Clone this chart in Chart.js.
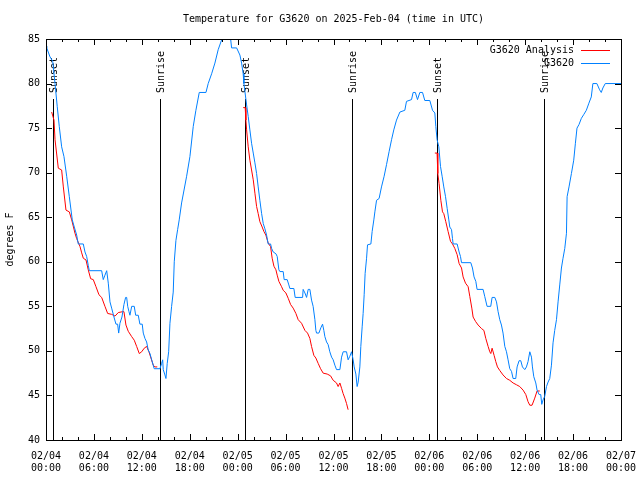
<!DOCTYPE html>
<html><head><meta charset="utf-8">
<script src="https://cdn.jsdelivr.net/npm/chart.js@4"></script>
<style>html,body{margin:0;padding:0;background:#fff}#wrap{width:640px;height:480px}</style>
</head><body><div id="wrap"><canvas id="c" width="640" height="480"></canvas></div>
<script>
const titleText = "Temperature for G3620 on 2025-Feb-04 (time in UTC)";
const yAxisTitle = "degrees F";
const tickDates = ["02/04","02/04","02/04","02/04","02/05","02/05","02/05","02/05","02/06","02/06","02/06","02/06","02/07"];
const tickTimes = ["00:00","06:00","12:00","18:00","00:00","06:00","12:00","18:00","00:00","06:00","12:00","18:00","00:00"];
const sunHours = [0.9, 14.3, 24.9, 38.3, 48.9, 62.3];
const sunLabels = ["Sunset","Sunrise","Sunset","Sunrise","Sunset","Sunrise"];
const sunLineTop = 78.3;
const seriesNames = ["G3620 Analysis", "G3620"];

// Observed G3620 (hours since 02/04 00:00 UTC, degrees F)
const obsHours = [0,0.09,0.5,0.84,1.13,1.41,1.66,1.96,2.25,2.59,2.92,3.29,3.54,3.84,4.04,4.67,4.88,5.09,5.29,5.42,6.97,7.17,7.38,7.6,7.8,8.01,8.22,8.51,8.76,8.97,9.1,9.26,9.51,9.76,9.97,10.1,10.23,10.39,10.51,10.73,11.05,11.23,11.55,11.76,12.05,12.18,12.39,12.6,12.8,13.02,13.23,13.55,14.27,14.48,14.61,14.68,14.89,15.02,15.18,15.36,15.52,15.73,15.93,16.06,16.27,16.48,16.68,16.98,17.61,18.02,18.44,18.77,19.19,20.03,20.31,20.74,21.15,21.56,21.99,22.28,22.78,23.12,23.24,23.87,24.28,24.49,24.69,24.78,24.91,25.12,25.32,25.53,25.74,25.95,26.16,26.37,26.57,26.78,27.0,27.2,27.41,27.62,27.82,28.12,28.25,28.45,28.79,28.95,29.16,29.29,29.7,29.82,30.2,30.41,30.54,31.04,31.2,32.13,32.2,32.42,32.63,32.83,33.04,33.25,33.45,33.67,33.79,33.88,34.17,34.42,34.63,34.79,34.92,35.13,35.33,35.54,35.76,35.96,36.17,36.38,36.8,37.01,37.21,37.63,37.83,38.05,38.26,38.46,38.59,38.8,38.96,39.09,39.3,39.42,39.59,39.71,39.84,39.96,40.14,40.26,40.68,40.84,41.05,41.18,41.39,41.71,42.01,42.34,42.64,42.97,43.27,43.55,43.89,44.31,44.93,45.14,45.77,45.97,46.25,46.52,46.81,47.15,47.43,48.06,48.4,48.69,48.81,48.97,49.19,49.4,49.6,49.81,50.03,50.23,50.44,50.56,50.78,50.9,50.98,51.48,51.73,51.9,52.03,53.19,53.4,53.6,53.82,53.98,54.73,54.94,55.23,55.69,55.86,56.2,56.41,56.61,56.82,57.03,57.23,57.45,57.66,57.86,58.07,58.29,58.49,58.82,58.99,59.24,59.45,59.66,59.95,60.16,60.36,60.58,60.79,60.91,61.08,61.33,61.49,61.74,61.95,62.08,62.24,62.45,62.67,62.87,63.08,63.29,63.49,63.7,63.92,64.12,64.33,64.54,64.74,64.96,65.17,65.25,65.49,65.79,66.08,66.29,66.49,66.74,67.04,67.32,67.66,67.98,68.28,68.48,68.98,69.32,69.53,69.73,70.03,72];
const obsTemps = [84.2,84.0,83.0,82.5,80.0,77.4,75.2,72.9,71.8,69.6,67.3,64.7,63.9,63.0,62.0,62.0,61.1,60.6,59.6,59.0,59.0,58.0,58.5,59.0,57.6,55.5,54.8,53.8,53.0,53.0,52.0,53.1,53.8,55.2,56.0,56.0,55.0,54.4,54.0,55.0,55.0,54.0,54.0,53.0,53.0,52.0,51.4,51.0,50.1,49.7,49.0,48.0,48.0,48.6,49.0,47.9,47.3,46.9,48.6,49.9,53.1,55.0,56.6,60.0,62.4,63.6,64.7,66.6,69.6,71.8,75.2,77.0,79.0,79.0,80.0,81.1,82.3,83.8,84.9,86.0,86.0,85.0,84.0,84.0,83.2,82.3,81.1,80.0,79.1,77.6,76.3,74.8,73.3,72.2,71.1,69.9,68.4,66.9,65.4,64.3,63.7,63.0,62.0,62.0,61.5,61.1,60.9,60.6,59.1,58.9,58.9,58.0,58.0,57.4,57.0,57.0,56.0,56.0,56.9,56.5,56.0,56.9,56.9,55.7,55.0,53.5,52.3,52.0,52.0,52.6,53.0,52.3,51.6,51.0,50.7,49.9,49.3,49.0,48.4,47.9,47.9,49.3,49.9,49.9,49.0,49.4,49.9,49.0,48.2,47.4,46.0,46.5,48.2,50.5,52.7,54.2,56.3,58.7,60.4,61.9,62.0,63.4,64.7,65.6,66.9,67.1,68.4,69.6,70.9,72.4,73.7,74.8,75.9,76.8,77.0,78.0,78.2,79.0,79.0,78.2,79.0,79.0,78.1,78.1,77.0,76.7,75.2,73.7,72.9,70.7,69.6,68.4,67.3,66.0,64.7,63.9,63.6,62.6,62.0,62.0,61.1,60.6,59.9,59.9,59.3,58.3,57.8,56.9,56.9,56.1,55.0,55.0,56.0,56.0,55.5,54.4,53.5,52.9,52.0,50.5,49.9,49.0,48.0,47.7,46.9,46.9,48.2,48.9,48.9,48.2,47.9,48.2,48.8,49.9,49.3,48.2,47.1,46.4,45.6,45.1,45.1,44.0,44.5,44.9,46.0,46.5,46.9,48.4,50.9,52.3,53.5,55.5,57.4,59.3,60.4,61.5,63.2,67.3,68.4,69.9,71.4,73.3,75.0,75.4,76.1,76.5,77.0,77.8,78.5,80.0,80.0,79.3,79.0,79.5,80.0,80.0];

// Analysis (night-time segments, null separates segments)
const anaHours = [0.71,1.0,1.13,1.54,1.96,2.17,2.5,2.92,3.22,3.63,3.84,4.26,4.47,4.67,5.01,5.29,5.59,5.92,6.26,6.63,6.97,7.38,7.72,8.22,8.64,9.05,9.6,9.76,10.01,10.3,10.73,11.05,11.35,11.68,11.98,12.3,12.6,12.89,13.14,13.43,13.64,13.93,
 19.0,
 24.69,24.94,25.03,25.12,25.32,25.53,25.74,25.95,26.16,26.37,26.57,26.78,27.07,27.28,27.53,27.82,28.12,28.32,28.54,28.79,28.95,29.16,29.5,29.7,30.04,30.33,30.63,30.95,31.29,31.58,32.0,32.42,32.75,33.04,33.25,33.54,33.79,34.08,34.38,34.71,35.21,35.63,35.96,36.38,36.58,36.8,37.01,37.21,37.42,37.63,37.83,
 43.0,
 48.69,48.97,49.06,49.22,49.44,49.65,49.81,50.06,50.35,50.65,50.9,51.19,51.48,51.73,52.03,52.23,52.53,52.86,53.07,53.32,53.48,53.79,54.11,54.54,54.83,55.07,55.36,55.57,55.7,55.86,56.11,56.32,56.53,56.82,57.23,57.66,58.07,58.49,58.91,59.32,59.74,60.08,60.36,60.58,60.86,61.2,61.49,61.83];
const anaTemps = [76.8,75.9,73.7,70.5,70.3,68.4,65.8,65.6,64.7,63.2,62.6,61.7,61.0,60.4,60.2,59.1,58.1,58.0,57.2,56.3,56.0,55.0,54.2,54.1,53.9,54.3,54.4,54.4,52.9,52.2,51.6,51.2,50.5,49.7,49.9,50.3,50.5,49.9,49.2,48.4,48.2,48.2,
 null,
 77.3,77.3,75.9,74.8,72.9,71.4,70.3,69.2,67.7,66.2,65.4,64.5,63.9,63.4,63.0,62.1,61.7,60.4,59.5,59.1,58.5,57.8,57.2,56.8,56.5,55.9,55.2,54.8,54.2,53.5,53.1,52.3,52.0,51.4,50.5,49.5,49.2,48.6,48.0,47.5,47.4,47.2,46.7,46.4,46.0,46.4,45.8,45.2,44.7,44.1,43.4,
 null,
 72.2,72.2,69.9,68.8,66.9,65.6,65.4,64.5,63.4,62.3,62.0,61.5,60.8,59.8,59.3,58.3,57.6,57.2,56.1,54.8,53.8,53.3,52.9,52.5,52.3,51.4,50.5,49.9,49.7,50.3,49.5,48.8,48.2,47.8,47.3,46.9,46.7,46.4,46.2,46.0,45.6,45.1,44.3,43.9,43.9,44.7,45.5,45.5];

const RED = "#ff0000", BLUE = "#0080ff";
const FONT = '10px "DejaVu Sans Mono", "Liberation Mono", monospace';
Chart.defaults.color = "#000";
Chart.defaults.font.family = '"DejaVu Sans Mono", "Liberation Mono", monospace';
Chart.defaults.font.size = 10;

const toPts = (xs, ys) => xs.map((x, i) => ({x: x, y: ys[i]}));

const decor = {
  id: "decor",
  beforeDatasetsDraw(chart) {
    const {ctx, chartArea: a, scales: {x, y}} = chart;
    ctx.save();
    ctx.strokeStyle = "#000"; ctx.lineWidth = 1;
    ctx.font = FONT; ctx.fillStyle = "#000";
    const topPx = Math.round(y.getPixelForValue(sunLineTop));
    sunHours.forEach((h, i) => {
      const px = Math.round(x.getPixelForValue(h)) + 0.5;
      ctx.beginPath(); ctx.moveTo(px, topPx); ctx.lineTo(px, a.bottom); ctx.stroke();
      ctx.save();
      ctx.translate(px + 1, topPx - 6);
      ctx.rotate(-Math.PI / 2);
      ctx.textAlign = "left"; ctx.textBaseline = "middle";
      ctx.fillText(sunLabels[i], 0, 0);
      ctx.restore();
    });
    ctx.restore();
  },
  afterDraw(chart) {
    const {ctx, chartArea: a, scales: {x, y}} = chart;
    ctx.save();
    ctx.strokeStyle = "#000"; ctx.lineWidth = 1;
    ctx.strokeRect(Math.round(a.left) + 0.5, Math.round(a.top) + 0.5, Math.round(a.right - a.left), Math.round(a.bottom - a.top));
    for (let h = 0; h <= 72; h += 2) {
      const px = Math.round(x.getPixelForValue(h)) + 0.5;
      const len = (h % 6 === 0) ? 6 : 3;
      ctx.beginPath();
      ctx.moveTo(px, a.bottom); ctx.lineTo(px, a.bottom - len);
      ctx.moveTo(px, a.top); ctx.lineTo(px, a.top + len);
      ctx.stroke();
    }
    for (let v = 40; v <= 85; v += 5) {
      const py = Math.round(y.getPixelForValue(v)) + 0.5;
      ctx.beginPath();
      ctx.moveTo(a.left, py); ctx.lineTo(a.left + 6, py);
      ctx.moveTo(a.right, py); ctx.lineTo(a.right - 6, py);
      ctx.stroke();
    }
    ctx.font = FONT; ctx.fillStyle = "#000";
    ctx.textAlign = "center"; ctx.textBaseline = "middle";
    ctx.fillText(titleText, (a.left + a.right) / 2, 19);
    ctx.save();
    ctx.translate(10, (a.top + a.bottom) / 2);
    ctx.rotate(-Math.PI / 2);
    ctx.fillText(yAxisTitle, 0, 0);
    ctx.restore();
    const cols = [RED, BLUE];
    seriesNames.forEach((n, i) => {
      const ly = 50 + i * 13;
      ctx.textAlign = "right"; ctx.fillStyle = "#000";
      ctx.fillText(n, 574, ly);
      ctx.strokeStyle = cols[i];
      ctx.beginPath(); ctx.moveTo(581, ly + 0.5); ctx.lineTo(610, ly + 0.5); ctx.stroke();
    });
    ctx.restore();
  }
};

new Chart(document.getElementById("c"), {
  type: "line",
  data: {
    datasets: [
      {label: seriesNames[1], data: toPts(obsHours, obsTemps), borderColor: BLUE, borderWidth: 1, pointRadius: 0, tension: 0, fill: false},
      {label: seriesNames[0], data: toPts(anaHours, anaTemps), borderColor: RED, borderWidth: 1, pointRadius: 0, tension: 0, fill: false, spanGaps: false}
    ]
  },
  options: {
    responsive: false, animation: false, devicePixelRatio: 1,
    layout: {padding: {left: 0, right: 19, top: 39, bottom: 0}},
    plugins: {legend: {display: false}, title: {display: false}, tooltip: {enabled: false}},
    scales: {
      x: {
        type: "linear", min: 0, max: 72,
        grid: {display: false, drawTicks: false}, border: {display: false},
        ticks: {stepSize: 6, autoSkip: false, maxRotation: 0, padding: 10, color: "#000",
          callback: (v) => { const i = Math.round(v / 6); return [tickDates[i], tickTimes[i]]; }},
        afterFit: (s) => { s.height = 40; s.paddingLeft = 0; s.paddingRight = 0; }
      },
      y: {
        type: "linear", min: 40, max: 85,
        grid: {display: false, drawTicks: false}, border: {display: false},
        ticks: {stepSize: 5, padding: 6, color: "#000"},
        afterFit: (s) => { s.width = 46; s.paddingTop = 0; s.paddingBottom = 0; }
      }
    }
  },
  plugins: [decor]
});
</script>
</body></html>
